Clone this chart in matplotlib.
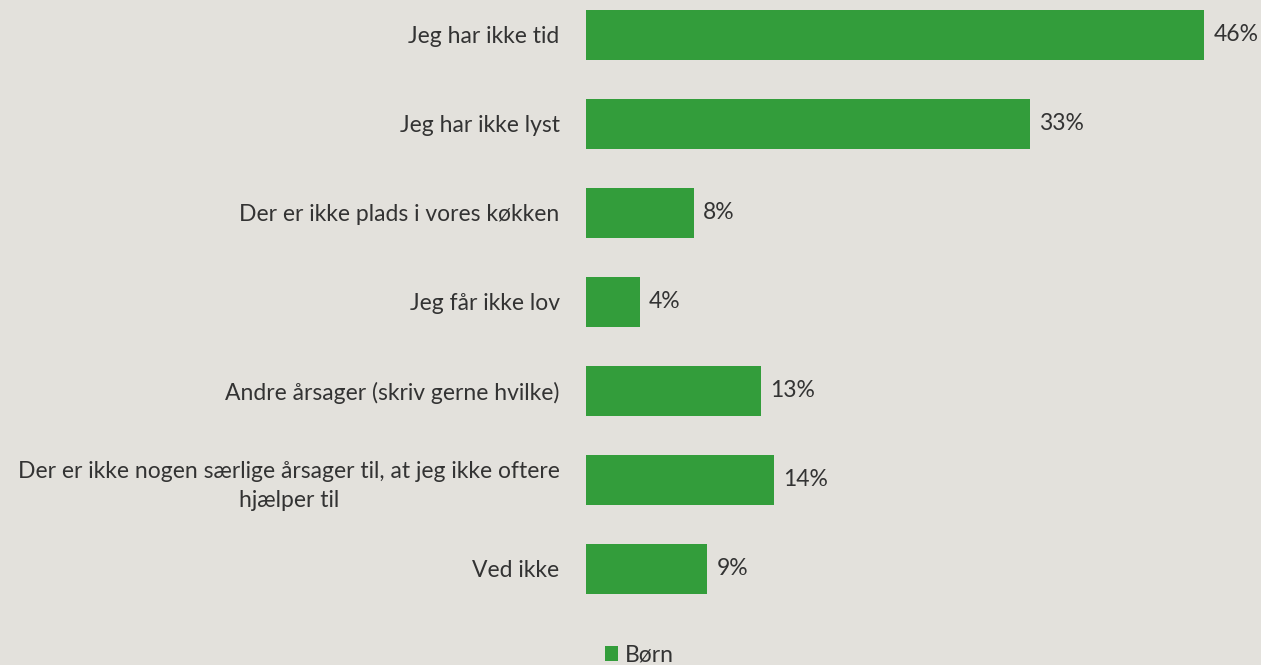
import matplotlib.pyplot as plt

categories = [
    'Jeg har ikke tid',
    'Jeg har ikke lyst',
    'Der er ikke plads i vores køkken',
    'Jeg får ikke lov',
    'Andre årsager (skriv gerne hvilke)',
    'Der er ikke nogen særlige årsager til, at jeg ikke oftere\nhjælper til',
    'Ved ikke',
]
values = [46, 33, 8, 4, 13, 14, 9]
series_name = 'Børn'

bg = '#e3e1dc'
green = '#339d3b'
txt = '#333333'

plt.rcParams['font.family'] = ['Source Sans Pro', 'Lato', 'DejaVu Sans']

fig = plt.figure(figsize=(12.61, 6.65), dpi=100, facecolor=bg)
ax = fig.add_axes([0.4647, 0.0767, 0.533, 0.9233], facecolor=bg)

y = list(range(len(categories)))
bars = ax.barh(y, values, height=0.56, color=green, label=series_name)

for yi, v in zip(y, values):
    ax.text(v + 0.7, yi, f'{v}%', va='center', ha='left', fontsize=16.5, color=txt)

ax.set_xlim(0, 50)
ax.set_ylim(6.506, -0.393)
ax.set_yticks(y)
ax.set_yticklabels(categories, fontsize=16.5, color=txt, multialignment='center',
                   linespacing=1.5)
ax.tick_params(axis='y', length=0, pad=19)
ax.set_xticks([])
for s in ax.spines.values():
    s.set_visible(False)

fig.legend(handles=[bars], labels=[series_name], loc='center', bbox_to_anchor=(0.507, 0.015),
           frameon=False, fontsize=16.5, handlelength=0.6, handleheight=0.6,
           handletextpad=0.3, labelcolor=txt)

fig.savefig('out.png', dpi=100, facecolor=bg)
